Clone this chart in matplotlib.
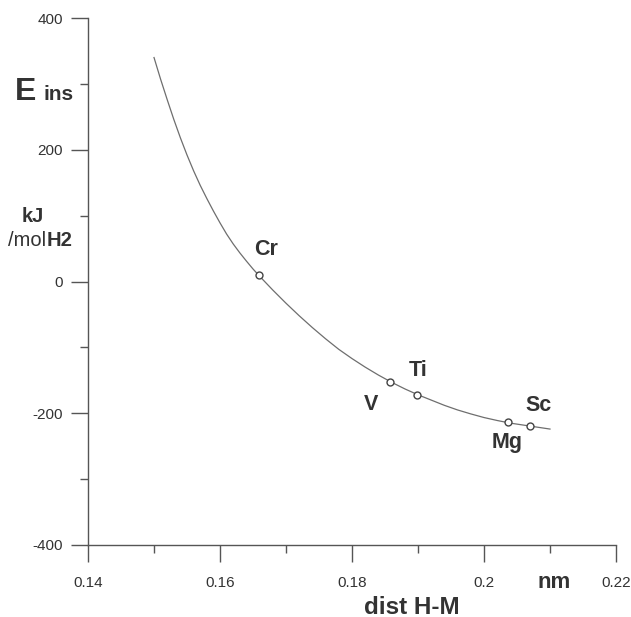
import matplotlib
matplotlib.use('Agg')
import matplotlib.pyplot as plt
from matplotlib.ticker import FixedLocator, FixedFormatter

plt.rcParams['font.family'] = ['Liberation Sans', 'DejaVu Sans']
plt.rcParams['axes.unicode_minus'] = False

# ── data ───────────────────────────────────────────────────────────────
metals = ['Cr', 'V', 'Ti', 'Mg', 'Sc']
dist_nm = [0.1659, 0.1857, 0.1898, 0.2036, 0.2069]
e_ins = [10, -153, -172, -214, -220]

# fitted curve, sampled by eye
curve_x = [0.150, 0.151, 0.152, 0.153, 0.154, 0.155, 0.156, 0.157, 0.158,
           0.159, 0.160, 0.161, 0.162, 0.163, 0.164, 0.165, 0.166, 0.168,
           0.170, 0.172, 0.174, 0.176, 0.178, 0.180, 0.182, 0.184, 0.186,
           0.188, 0.190, 0.192, 0.194, 0.196, 0.198, 0.200, 0.202, 0.204,
           0.206, 0.208, 0.210]
curve_y = [340, 307, 276, 246, 218, 192, 168, 146, 126,
           107, 89, 72, 57, 43.5, 31, 19, 8, -13,
           -33, -52, -70, -87, -103, -117, -130, -142, -153,
           -163, -172, -180, -188, -195, -201, -206.5, -211, -215,
           -218, -221, -224]

# label offsets (data units) for each metal
label_dx = [0.0011, -0.0028, 0.0002, -0.0001, 0.0013]
label_dy = [38, -34, 37, -30, 32]

xticks = [0.14, 0.16, 0.18, 0.2, 0.22]
xticklabels = ['0.14', '0.16', '0.18', '0.2', '0.22']
yticks = [-400, -200, 0, 200, 400]
yticklabels = ['-400', '-200', '0', '200', '400']

axis_col = '#555555'
text_col = '#333333'

fig = plt.figure(figsize=(6.31, 6.17), dpi=100)
ax = fig.add_axes([0.1395, 0.1167, 0.9762 - 0.1395, 0.9708 - 0.1167])

ax.plot(curve_x, curve_y, '-', color='#6e6e6e', linewidth=0.9)
ax.plot(dist_nm, e_ins, 'o', markersize=5, markerfacecolor='white',
        markeredgecolor='#444444', markeredgewidth=1.0, zorder=5)

for m, x, y, dx, dy in zip(metals, dist_nm, e_ins, label_dx, label_dy):
    ax.text(x + dx, y + dy, m, ha='center', va='center', fontsize=15.5,
            fontweight='bold', color=text_col)

ax.set_xlim(0.14, 0.22)
ax.set_ylim(-400, 400)

for s in ['top', 'right']:
    ax.spines[s].set_visible(False)
for s in ['left', 'bottom']:
    ax.spines[s].set_color(axis_col)
    ax.spines[s].set_linewidth(1.0)

ax.xaxis.set_major_locator(FixedLocator(xticks))
ax.xaxis.set_major_formatter(FixedFormatter(xticklabels))
ax.xaxis.set_minor_locator(FixedLocator([0.15, 0.17, 0.19, 0.21]))
ax.yaxis.set_major_locator(FixedLocator(yticks))
ax.yaxis.set_major_formatter(FixedFormatter(yticklabels))
ax.yaxis.set_minor_locator(FixedLocator([-300, -100, 100, 300]))

ax.tick_params(which='major', direction='out', length=12, width=1.0,
               color=axis_col, labelsize=11, labelcolor=text_col)
ax.tick_params(which='minor', direction='out', length=6, width=1.0,
               color=axis_col)
ax.tick_params(axis='x', which='major', pad=10)
ax.tick_params(axis='y', which='major', pad=6)

# axis titles placed as in the original figure
fig.text(15 / 631, 1 - 92 / 617, 'E', fontsize=23, fontweight='bold',
         color=text_col, ha='left', va='center')
fig.text(43 / 631, 1 - 95 / 617, 'ins', fontsize=15, fontweight='bold',
         color=text_col, ha='left', va='center')
fig.text(22 / 631, 1 - 216 / 617, 'kJ', fontsize=14.5, fontweight='bold',
         color=text_col, ha='left', va='center')
t_mol = fig.text(8 / 631, 1 - 246 / 617, '/mol', fontsize=14.5,
                 color=text_col, ha='left', va='baseline')
fig.canvas.draw()
bb = t_mol.get_window_extent()
fig.text(bb.x1 / fig.bbox.width, 1 - 246 / 617, 'H2', fontsize=14.5,
         fontweight='bold', color=text_col, ha='left', va='baseline')
fig.text(554 / 631, 1 - 583 / 617, 'nm', fontsize=16, fontweight='bold',
         color=text_col, ha='center', va='center')
fig.text(412 / 631, 1 - 607 / 617, 'dist H-M', fontsize=17.5,
         fontweight='bold', color=text_col, ha='center', va='center')

fig.savefig('out.png', dpi=100)
